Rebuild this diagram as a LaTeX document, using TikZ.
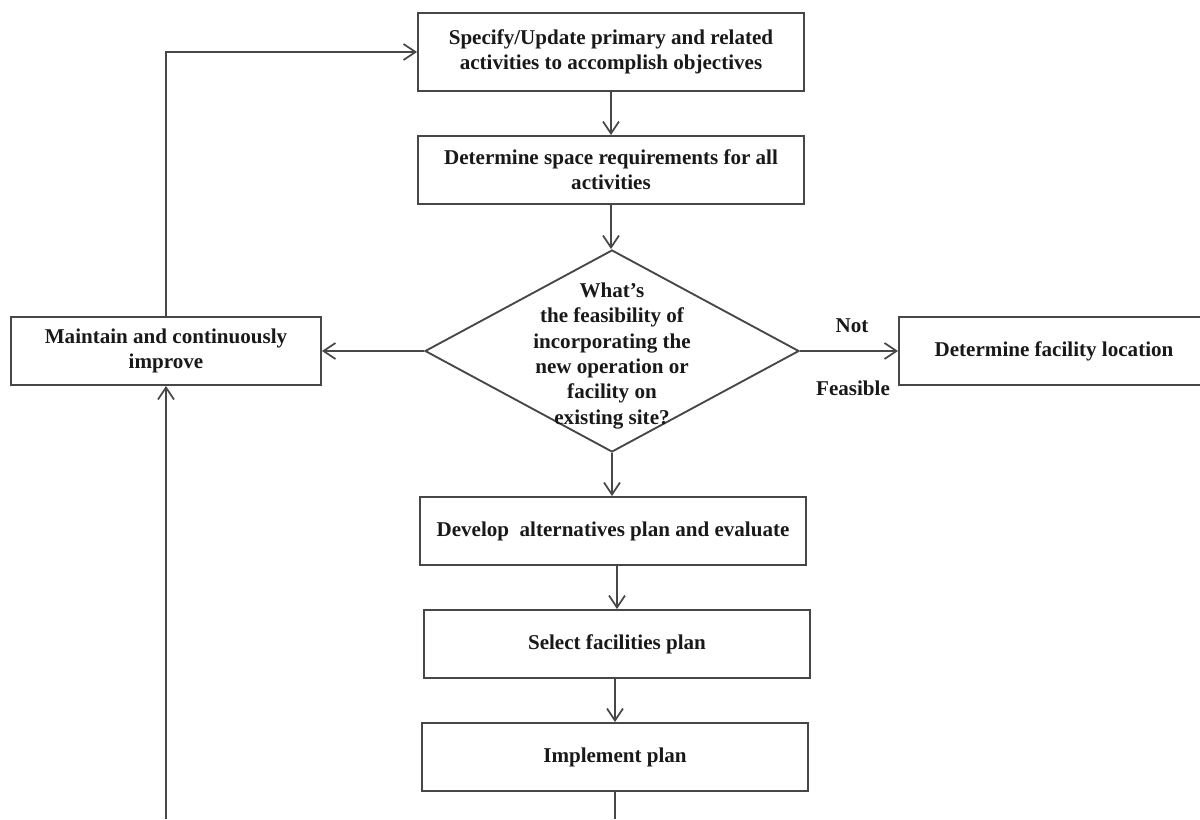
\documentclass[tikz,border=0pt]{standalone}
\usepackage{fontspec}
\setmainfont{Liberation Serif}
\usetikzlibrary{arrows.meta,shapes.geometric}
\begin{document}
\begin{tikzpicture}[x=0.75pt,y=-0.75pt,
  txt/.style={font=\bfseries\fontsize{15.8pt}{19pt}\selectfont, text=black!90},
  box/.style={txt, draw=black!72, line width=1.4pt, rectangle, align=center, inner sep=0pt},
  arr/.style={draw=black!72, line width=1.4pt, -{Straight Barb[length=9pt,width=12pt,line width=1.3pt]}},
  plain/.style={draw=black!72, line width=1.4pt}
]
\useasboundingbox (0,0) rectangle (1200,819);

\node[box, minimum width=289.5pt, minimum height=58.5pt] (b1) at (611,52)
  {Specify/Update primary and related\\activities to accomplish objectives};
\node[box, minimum width=289.5pt, minimum height=51pt] (b2) at (611,170)
  {Determine space requirements for all\\activities};
\node[draw=black!72, line width=1.4pt, diamond, inner sep=0pt,
  minimum width=280.5pt, minimum height=151.5pt] (dia) at (612,351) {};
\node[txt, align=center, inner sep=0pt] (diat) at (612,356)
  {What's\\the feasibility of\\incorporating the\\new operation or\\facility on\\existing site?};
\node[box, minimum width=232.5pt, minimum height=51pt] (mai) at (166,351)
  {Maintain and continuously\\improve};
\node[box, minimum width=232.5pt, minimum height=51pt] (fac) at (1054,351)
  {Determine facility location};
\node[box, minimum width=289.5pt, minimum height=51pt] (dev) at (613,531)
  {Develop\ \ alternatives plan and evaluate};
\node[box, minimum width=289.5pt, minimum height=51pt] (sel) at (617,644)
  {Select facilities plan};
\node[box, minimum width=289.5pt, minimum height=51pt] (imp) at (615,757)
  {Implement plan};

\node[txt, inner sep=0pt] (lnot) at (852,326) {Not};
\node[txt, inner sep=0pt] (lfeas) at (853,388) {Feasible};

\coordinate (cimp) at (615,819);
\coordinate (cmai) at (166,819);

\draw[arr] (b1.south) -- (b2.north);
\draw[arr] (b2.south) -- (b2.south |- dia.north);
\draw[arr] (dia.south) -- (dia.south |- dev.north);
\draw[arr] (dev.south -| sel.north) -- (sel.north);
\draw[arr] (sel.south -| imp.north) -- (imp.north);
\draw[plain] (imp.south) -- (cimp);
\draw[arr] (cmai) -- (mai.south);
\draw[arr] (mai.north) |- (b1.west);
\draw[arr] (dia.west) -- (mai.east);
\draw[arr] (dia.east) -- (fac.west);
\end{tikzpicture}
\end{document}
